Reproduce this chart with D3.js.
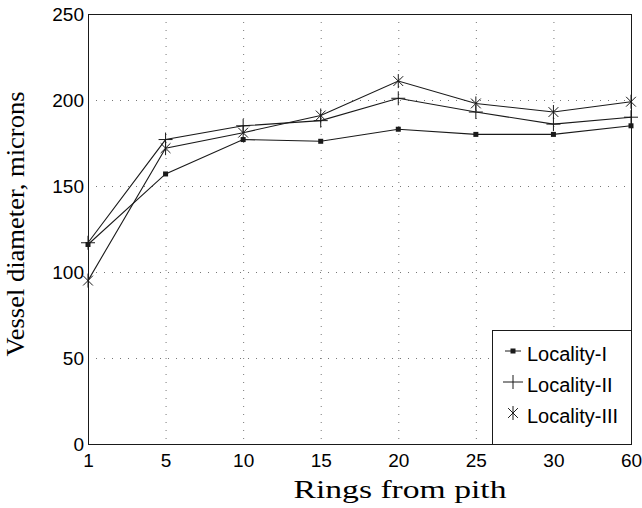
<!DOCTYPE html>
<html>
<head>
<meta charset="utf-8">
<script src="https://cdn.jsdelivr.net/npm/d3@7"></script>
<style>
  html, body { margin: 0; padding: 0; background: #fff; }
  svg { display: block; }
</style>
</head>
<body>
<svg id="chart" width="642" height="508"></svg>
<script>
const rings = ["1", "5", "10", "15", "20", "25", "30", "60"];
const locality1 = [116, 157, 177, 176, 183, 180, 180, 185];
const locality2 = [117, 177, 185, 188, 201, 193, 186, 190];
const locality3 = [95, 172, 181, 191, 211, 198, 193, 199];
const yTicks = [0, 50, 100, 150, 200, 250];
const seriesNames = ["Locality-I", "Locality-II", "Locality-III"];

(() => {
  const svg = d3.select("#chart");
  const L = 88, R = 631, T = 14, B = 444;
  const ink = "#1a1a1a";
  const sans = "'Liberation Sans', Arial, sans-serif";
  const serif = "'Liberation Serif', 'Times New Roman', serif";

  const x = d3.scalePoint().domain(rings).range([L, R]).padding(0);
  const y = d3.scaleLinear().domain([0, 250]).range([B, T]);

  // dotted grid
  const grid = svg.append("g").attr("stroke", "#777").attr("stroke-width", 1)
    .attr("stroke-dasharray", "1 7");
  yTicks.filter(t => t > 0 && t < 250).forEach(t => {
    grid.append("line").attr("x1", L).attr("x2", R)
      .attr("y1", y(t) + 0.5).attr("y2", y(t) + 0.5);
  });
  rings.slice(1, -1).forEach(r => {
    grid.append("line").attr("x1", x(r) + 0.5).attr("x2", x(r) + 0.5)
      .attr("y1", T).attr("y2", B);
  });

  // tick labels via d3 axes (no tick marks)
  const yAxis = svg.append("g").attr("transform", `translate(${L},0)`)
    .call(d3.axisLeft(y).tickValues(yTicks).tickSize(0).tickPadding(4));
  const xAxis = svg.append("g").attr("transform", `translate(0,${B})`)
    .call(d3.axisBottom(x).tickSize(0).tickPadding(10));
  [yAxis, xAxis].forEach(a => {
    a.select(".domain").remove();
    a.selectAll("text").attr("font-family", sans).attr("font-size", 19).attr("fill", "#000");
  });

  // frame
  svg.append("rect").attr("x", L + 0.5).attr("y", T + 0.5)
    .attr("width", R - L).attr("height", B - T)
    .attr("fill", "none").attr("stroke", ink).attr("stroke-width", 1);

  // markers
  function marker(g, type, cx, cy, sx, sy) {
    if (type === 0) {
      g.append("rect").attr("x", cx - 2.5).attr("y", cy - 2.5)
        .attr("width", 5).attr("height", 5).attr("fill", ink);
    } else if (type === 1) {
      g.append("path").attr("d", `M${cx - sx},${cy}H${cx + sx}M${cx},${cy - sy}V${cy + sy}`)
        .attr("stroke", ink).attr("stroke-width", 1).attr("fill", "none");
    } else {
      const d = sy * 0.7;
      g.append("path")
        .attr("d", `M${cx - d},${cy - d}L${cx + d},${cy + d}M${cx - d},${cy + d}L${cx + d},${cy - d}M${cx},${cy - sy}V${cy + sy}`)
        .attr("stroke", ink).attr("stroke-width", 1).attr("fill", "none");
    }
  }

  const line = d3.line().x((d, i) => x(rings[i])).y(d => y(d));
  [locality1, locality2, locality3].forEach((vals, k) => {
    const g = svg.append("g");
    g.append("path").datum(vals).attr("d", line)
      .attr("fill", "none").attr("stroke", ink).attr("stroke-width", 1.1);
    vals.forEach((v, i) => marker(g, k, x(rings[i]), y(v), 7, 7));
  });

  // legend
  const leg = svg.append("g");
  leg.append("rect").attr("x", 492.5).attr("y", 330.5).attr("width", 139).attr("height", 114)
    .attr("fill", "#fff").attr("stroke", ink).attr("stroke-width", 1);
  const rowY = [351, 382, 413];
  seriesNames.forEach((name, k) => {
    const cy = rowY[k];
    if (k === 0) {
      leg.append("line").attr("x1", 505).attr("x2", 521).attr("y1", cy).attr("y2", cy)
        .attr("stroke", ink).attr("stroke-width", 1);
    }
    marker(leg, k, 513, cy, k === 1 ? 10 : 7, 7);
    leg.append("text").attr("x", 527).attr("y", cy + 10)
      .attr("font-family", sans).attr("font-size", 20).attr("fill", "#000").text(name);
  });

  // axis titles
  svg.append("text").attr("x", 400).attr("y", 498).attr("text-anchor", "middle")
    .attr("font-family", serif).attr("font-size", 25).attr("fill", "#000")
    .attr("textLength", 213).attr("lengthAdjust", "spacingAndGlyphs")
    .text("Rings from pith");
  svg.append("text").attr("transform", "translate(24,224) rotate(-90)")
    .attr("text-anchor", "middle")
    .attr("font-family", serif).attr("font-size", 26).attr("fill", "#000")
    .attr("textLength", 265).attr("lengthAdjust", "spacingAndGlyphs")
    .text("Vessel diameter, microns");
})();
</script>
</body>
</html>
